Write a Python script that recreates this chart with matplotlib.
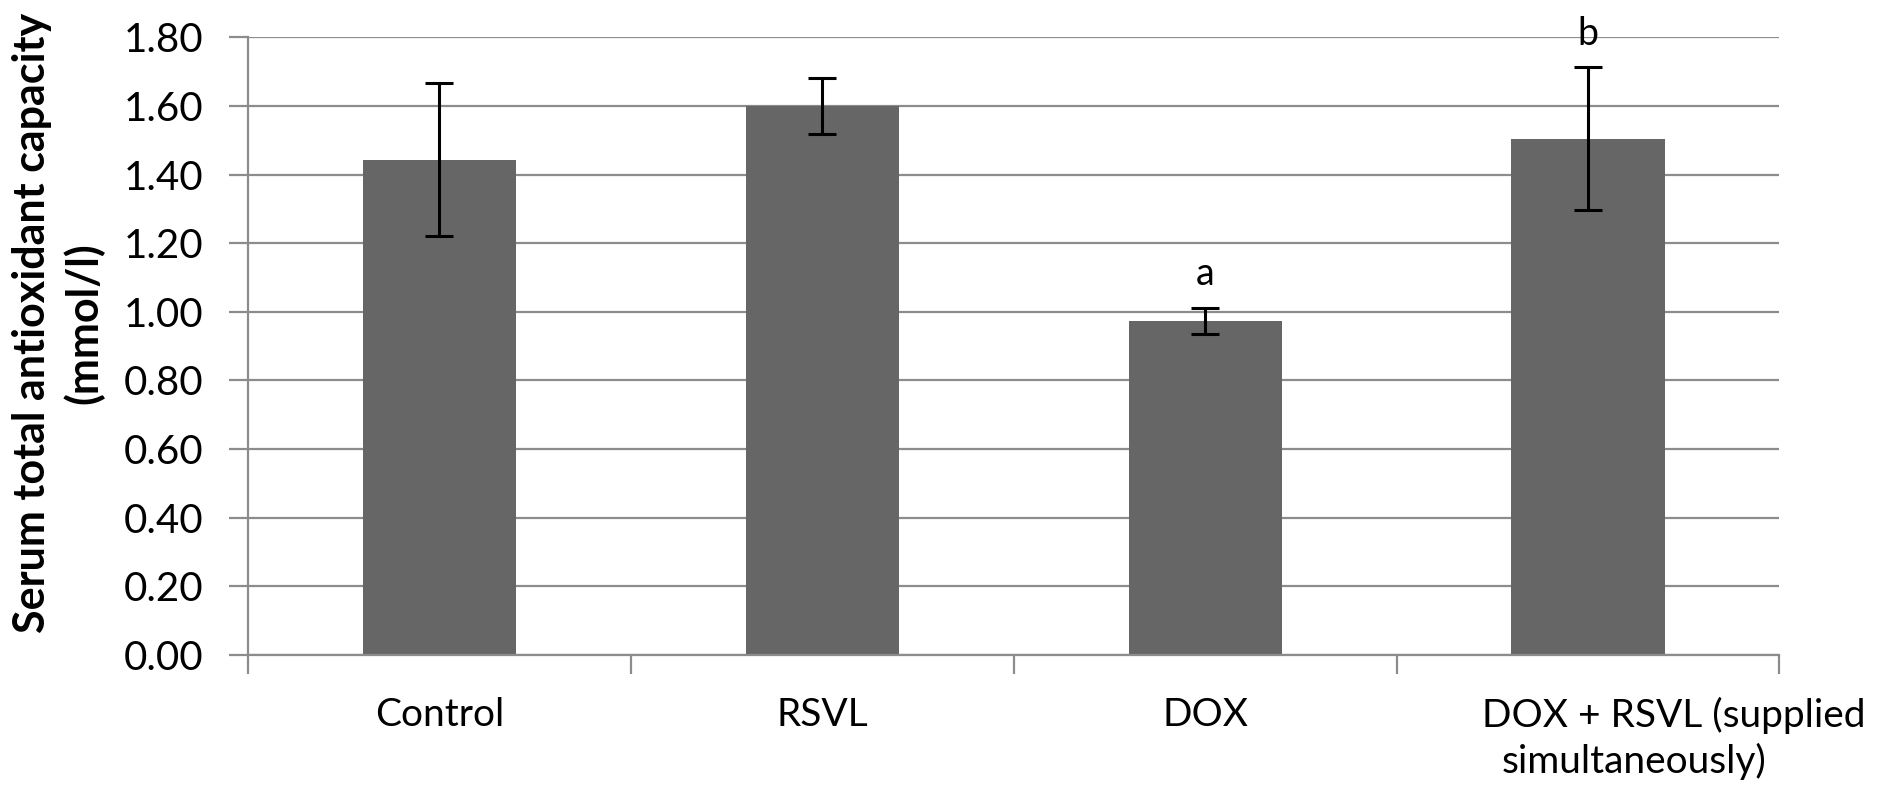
import matplotlib.pyplot as plt
import numpy as np

plt.rcParams['font.family'] = ['Lato', 'DejaVu Sans']

groups = ["Control", "RSVL", "DOX", "DOX + RSVL"]
means = [1.443, 1.600, 0.973, 1.505]
errors = [0.223, 0.082, 0.037, 0.209]
letters = ["", "", "a", "b"]
letter_y = [0, 0, 1.11, 1.81]
yticks = [0.0, 0.2, 0.4, 0.6, 0.8, 1.0, 1.2, 1.4, 1.6, 1.8]

fig = plt.figure(figsize=(18.93, 7.93), dpi=100)
ax = fig.add_axes([0.131, 0.174, 0.809, 0.779])

x = np.arange(len(groups))
ax.bar(x, means, width=0.4, color="#666666", zorder=2)
ax.errorbar(x, means, yerr=errors, fmt="none", ecolor="black",
            elinewidth=2.2, capsize=10, capthick=2.2, zorder=3)

for xi, lt, ly in zip(x, letters, letter_y):
    if lt:
        ax.text(xi, ly, lt, ha="center", va="center", fontsize=27)

ax.set_xlim(-0.5, len(groups) - 0.5)
ax.set_ylim(0, 1.8)
ax.set_yticks(yticks)
ax.set_yticklabels(["%.2f" % v for v in yticks], fontsize=29)
ax.yaxis.grid(True, color="#8c8c8c", linewidth=1.6, zorder=0)
ax.set_axisbelow(True)

# category ticks between bars, labels centred under bars
ax.set_xticks(np.arange(-0.5, len(groups), 1.0))
ax.set_xticklabels([])
ax.set_xticks(x, minor=True)
ax.set_xticklabels(groups[:3] + [""], minor=True, fontsize=28)
ax.tick_params(axis="x", which="minor", length=0, pad=30)
ax.tick_params(axis="x", which="major", length=14, width=1.6, color="#8c8c8c")
ax.tick_params(axis="y", length=14, width=1.6, color="#8c8c8c", pad=18)

# the last label is wrapped and sits off-centre, as in the original
ax.text(2.722, -0.210, groups[3] + " (supplied", ha="left", va="baseline",
        fontsize=28, clip_on=False)
ax.text(2.774, -0.344, "simultaneously)", ha="left", va="baseline",
        fontsize=28, clip_on=False)

for s in ["top", "right"]:
    ax.spines[s].set_visible(False)
for s in ["left", "bottom"]:
    ax.spines[s].set_color("#8c8c8c")
    ax.spines[s].set_linewidth(1.6)

fig.text(0.0306, 0.593, "Serum total antioxidant capacity\n(mmol/l)",
         rotation=90, ha="center", va="center", multialignment="center",
         fontsize=31, fontweight="bold", linespacing=1.3)

fig.savefig("out.png", dpi=100)
